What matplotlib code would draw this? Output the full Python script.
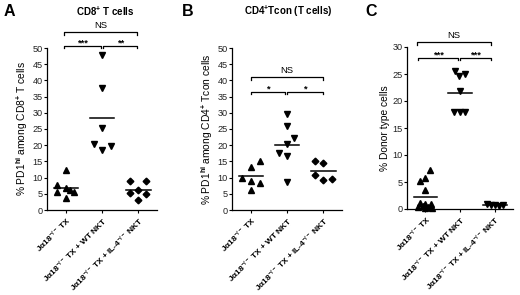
import numpy as np
import matplotlib
matplotlib.use("Agg")
import matplotlib.pyplot as plt

plt.rcParams.update({
    "font.family": ["Liberation Sans", "DejaVu Sans"],
    "font.weight": "bold",
    "mathtext.fontset": "custom",
    "mathtext.rm": "Liberation Sans:bold",
    "mathtext.it": "Liberation Sans:bold",
    "mathtext.bf": "Liberation Sans:bold",
    "axes.linewidth": 0.9,
})

groups = ["Jα18$^{-/-}$ TX",
          "Jα18$^{-/-}$ TX + WT NKT",
          "Jα18$^{-/-}$ TX + IL-4$^{-/-}$ NKT"]

# panel A: % PD1hi among CD8+ T cells
a_ko = [12.3, 7.7, 5.6, 6.8, 6.2, 5.5, 3.7]
a_wt = [47.8, 37.7, 25.3, 20.4, 18.5, 19.8]
a_il4 = [9.0, 9.0, 5.2, 6.2, 5.0, 3.1]

# panel B: % PD1hi among CD4+ Tcon cells
b_ko = [15.2, 13.4, 9.9, 9.0, 8.4, 6.2]
b_wt = [29.6, 25.9, 22.3, 20.4, 17.7, 16.8, 8.7]
b_il4 = [15.2, 14.6, 10.8, 9.3, 9.6]

# panel C: % donor type cells
c_ko = [7.2, 5.7, 5.1, 3.5, 1.2, 1.0, 0.9, 0.6, 0.4, 0.3, 0.2, 0.1]
c_wt = [25.6, 24.6, 25.0, 21.9, 17.9, 17.9, 17.9]
c_il4 = [0.9, 0.7, 0.8, 0.6, 0.8]

# horizontal scatter of the points around each category
a_dx = [[0, -0.24, -0.24, 0, 0.11, 0.22, 0],
        [0, 0, 0, -0.24, 0, 0.24],
        [-0.22, 0.22, -0.22, 0, 0.22, 0]]
b_dx = [[0.24, 0, -0.24, 0, 0.24, 0],
        [0, 0, 0.2, 0, -0.24, 0, 0],
        [-0.24, 0, -0.24, 0, 0.24]]
c_dx = [[0.12, 0, -0.15, 0, -0.15, 0, 0.15, -0.08, 0.08, -0.2, 0.2, 0],
        [-0.15, -0.03, 0.14, 0, -0.17, 0, 0.14],
        [-0.24, -0.12, 0, 0.12, 0.24]]


def draw_panel(ax, data, dx, marks, ymax, brackets, ylabel, title, title_x):
    for i, (vals, off) in enumerate(zip(data, dx)):
        x = i + np.array(off)
        ms = 3.4 if marks[i] == "D" else 4.4
        ax.plot(x, vals, linestyle="none", marker=marks[i], color="black",
                markersize=ms, clip_on=False, zorder=3)
        m = np.mean(vals)
        ax.plot([i - 0.34, i + 0.34], [m, m], color="black", lw=1.1)

    ax.set_xlim(-0.53, 2.52)
    ax.set_ylim(0, ymax)
    ax.set_yticks(np.arange(0, ymax + 1, 5))
    ax.set_xticks(range(3))
    ax.set_xticklabels(groups, rotation=45, ha="right", rotation_mode="anchor",
                       fontsize=6.0)
    ax.tick_params(axis="y", labelsize=6.6, length=2, width=0.8, pad=1)
    ax.tick_params(axis="x", length=2, width=0.8, pad=2)
    for lab in ax.get_yticklabels():
        lab.set_fontweight("normal")
        lab.set_color("#222222")
    for s in ("top", "right"):
        ax.spines[s].set_visible(False)
    ax.set_ylabel(ylabel, fontsize=7.4, labelpad=2)

    # significance brackets
    tick = ymax * 0.015
    for x0, x1, y, txt in brackets:
        ax.plot([x0, x0, x1, x1], [y - tick, y, y, y - tick], color="black",
                lw=0.9, clip_on=False)
        if txt == "NS":
            ax.text((x0 + x1) / 2, y + ymax * 0.012, txt, ha="center",
                    va="bottom", fontsize=6.8, fontweight="normal")
        else:
            ax.text((x0 + x1) / 2, y - ymax * 0.008, txt, ha="center",
                    va="bottom", fontsize=6.8)

    if title:
        ax.figure.text(title_x, 0.962, title, ha="center", va="center",
                       fontsize=7)


fig = plt.figure(figsize=(5.2, 2.95), dpi=100)

ax_a = fig.add_axes([47 / 520, 1 - 210 / 295, 110 / 520, 162 / 295])
ax_b = fig.add_axes([232 / 520, 1 - 210 / 295, 110 / 520, 162 / 295])
ax_c = fig.add_axes([407 / 520, 1 - 209 / 295, 106 / 520, 162 / 295])

draw_panel(ax_a, [a_ko, a_wt, a_il4], a_dx, ["^", "v", "D"], 50,
           [(-0.05, 1.97, 54.9, "NS"), (-0.05, 0.97, 50.6, "***"),
            (1.03, 1.97, 50.6, "**")],
           "% PD1$^{\\mathrm{hi}}$ among CD8$^{+}$ T cells",
           "CD8$^{+}$ T cells", 105 / 520)
draw_panel(ax_b, [b_ko, b_wt, b_il4], b_dx, ["^", "v", "D"], 50,
           [(0.0, 2.0, 41.0, "NS"), (0.0, 0.93, 36.4, "*"),
            (1.0, 2.0, 36.4, "*")],
           "% PD1$^{\\mathrm{hi}}$ among CD4$^{+}$ Tcon cells",
           "CD4$^{+}$Tcon (T cells)", 288 / 520)
draw_panel(ax_c, [c_ko, c_wt, c_il4], c_dx, ["^", "v", "v"], 30,
           [(-0.24, 1.9, 30.9, "NS"), (-0.2, 0.95, 28.0, "***"),
            (1.0, 1.9, 28.0, "***")],
           "% Donor type cells", "", 0)

for lbl, xpos in [("A", 9 / 520), ("B", 188 / 520), ("C", 371 / 520)]:
    fig.text(xpos, 0.962, lbl, ha="center", va="center", fontsize=11.5,
             fontweight="bold")

fig.savefig("out.png", dpi=100)
